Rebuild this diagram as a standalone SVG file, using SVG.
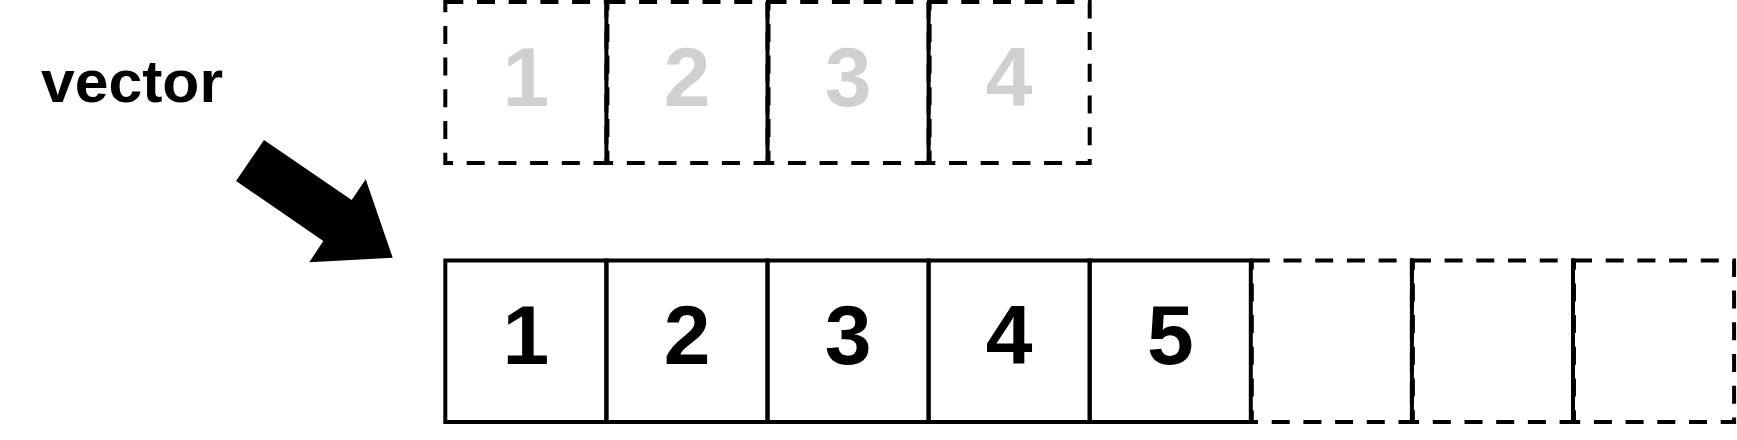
<svg xmlns="http://www.w3.org/2000/svg" width="1737" height="440" viewBox="0 0 1737 440">
  <style>
    .cell { fill: none; stroke: #000; stroke-width: 4; }
    .dash { stroke-dasharray: 18 13.7; }
    .div { stroke: #000; stroke-width: 4; }
    .num { font-family: "Liberation Sans", Arial, sans-serif; font-weight: bold; font-size: 84px; text-anchor: middle; }
    .ghost { fill: #d1d0d0; }
    .solid { fill: #000; }
    .label { font-family: "Liberation Sans", Arial, sans-serif; font-weight: bold; font-size: 60px; fill: #000; }
  </style>
  <rect width="1737" height="440" fill="#fff"/>

  <g id="label-vector">
    <text class="label" x="41" y="102" textLength="182" lengthAdjust="spacingAndGlyphs">vector</text>
  </g>

  <g id="old-buffer">
    <g id="old-1"><rect class="cell dash" x="445.3" y="2" width="161.1" height="161"/><text class="num ghost" x="525.9" y="105.5">1</text></g>
    <g id="old-2"><rect class="cell dash" x="607.4" y="2" width="160.1" height="161"/><line class="div" x1="606.4" y1="2" x2="606.4" y2="165"/><text class="num ghost" x="687" y="105.5">2</text></g>
    <g id="old-3"><rect class="cell dash" x="768.5" y="2" width="160.1" height="161"/><line class="div" x1="767.5" y1="2" x2="767.5" y2="165"/><text class="num ghost" x="848.1" y="105.5">3</text></g>
    <g id="old-4"><rect class="cell dash" x="929.6" y="2" width="160.1" height="161"/><line class="div" x1="928.6" y1="2" x2="928.6" y2="165"/><text class="num ghost" x="1009.2" y="105.5">4</text></g>
  </g>

  <g id="connectors">
    <polygon fill="#000" points="264,140 351.7,200 365.7,179.3 392.7,257.7 309.3,262.3 323.3,241 236,181"/>
  </g>

  <g id="new-buffer">
    <g id="new-6"><rect class="cell dash" x="1251.8" y="260.5" width="160.1" height="161.5"/></g>
    <g id="new-7"><rect class="cell dash" x="1412.9" y="260.5" width="160.1" height="161.5"/><line class="div" x1="1411.9" y1="258.5" x2="1411.9" y2="424"/></g>
    <g id="new-8"><rect class="cell dash" x="1574" y="260.5" width="160.1" height="161.5"/><line class="div" x1="1573" y1="258.5" x2="1573" y2="424"/></g>
    <g id="new-1"><rect class="cell" x="445.3" y="260.5" width="161.1" height="161.5"/><text class="num solid" x="525.9" y="363.5">1</text></g>
    <g id="new-2"><rect class="cell" x="606.4" y="260.5" width="161.1" height="161.5"/><text class="num solid" x="687" y="363.5">2</text></g>
    <g id="new-3"><rect class="cell" x="767.5" y="260.5" width="161.1" height="161.5"/><text class="num solid" x="848.1" y="363.5">3</text></g>
    <g id="new-4"><rect class="cell" x="928.6" y="260.5" width="161.1" height="161.5"/><text class="num solid" x="1009.2" y="363.5">4</text></g>
    <g id="new-5"><rect class="cell" x="1089.7" y="260.5" width="161.1" height="161.5"/><text class="num solid" x="1170.3" y="363.5">5</text></g>
  </g>
</svg>
